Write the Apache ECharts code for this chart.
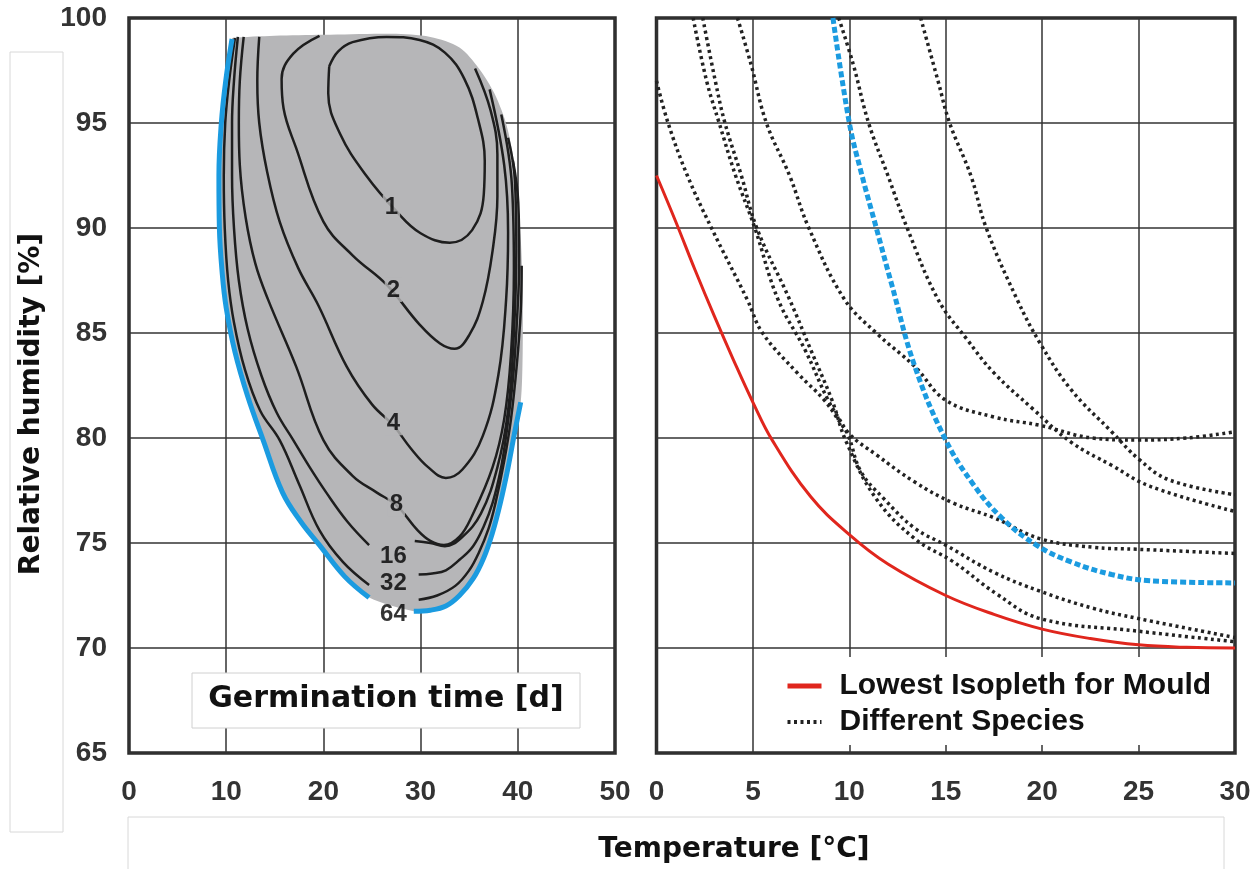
<!DOCTYPE html>
<html>
<head>
<meta charset="utf-8">
<title>Mould germination isopleths</title>
<script src="https://cdn.jsdelivr.net/npm/echarts@6/dist/echarts.min.js"></script>
<style>
  html, body { margin: 0; padding: 0; background: #fff; }
  #chart { width: 1258px; height: 869px; }
</style>
</head>
<body>
<div id="chart"></div>
<script>
// ---- left panel: germination time isopleths [temperature, RH] ----
const contour1 = [[20.6,97.7],[21.5,98.4],[23,98.85],[26.5,99.1],[29.9,98.95],[32.5,98.35],[34.5,97.1],[35.9,95.2],[36.6,93.2],[36.5,91.6],[35.3,89.9],[33,89.3],[30,89.75],[27.5,90.8],[24.4,92.5],[21.7,94.5],[20.5,96.4],[20.6,97.7]]
const contour2 = [[19.6,99.15],[16.9,98.3],[15.7,97.1],[15.9,95.7],[17.2,93.8],[20,90.3],[23,88.7],[26.5,87.3],[29.9,85.4],[32,84.5],[33.5,84.25],[35,84.9],[36.4,86.5],[37.4,88.9],[37.9,91.5],[37.9,93.5],[37.2,95.6],[35.6,97.6]]
const contour4 = [[13.4,99.1],[13.2,97],[13.4,95],[14.2,92.7],[15.5,90.3],[17.4,88.1],[19.5,86.3],[22.4,83.4],[25,81.6],[27.2,80.6],[29,79.5],[30.8,78.6],[32.6,78.1],[34.3,78.5],[36.4,80.1],[38,83],[38.8,86.6],[39,89.8],[38.6,93],[37.1,96.6]]
const contour8 = [[11.8,99.1],[11.4,97],[11.3,95],[11.4,93],[12,90.5],[13,88.3],[14.3,86.6],[17.2,83.4],[20,79.9],[23,78.2],[25.5,77.4],[27.5,76.8],[29.7,75.6],[31,75.1],[32.4,74.9],[34,75.3],[35.3,76.3],[37.4,78.6],[38.6,80.9],[39.3,84],[39.6,88],[39.4,92],[38.3,95.4]]
const contour16Left = [[11.2,99.1],[10.8,97],[10.6,95],[10.6,92.5],[10.8,90],[11.3,87.5],[12.2,85.2],[13.6,83],[15.2,81.2],[16.9,79.9],[18.6,78.6],[20.3,77.4],[22.5,76],[24.7,74.9]]
const contour16Right = [[29.4,75.1],[31,75],[32.5,74.85],[34.2,75.25],[36.2,76.4],[37.9,78.6],[39,81.3],[39.6,85],[39.85,89],[39.7,92.3],[39,94.3]]
const contour32Left = [[10.9,99.05],[10.3,97],[9.9,95],[9.75,92.5],[9.85,90],[10.2,87.5],[10.8,85.5],[11.9,83.3],[13.5,81.3],[15.5,79.9],[17.5,77.8],[19.6,75.6],[22,74.1],[24.7,73]]
const contour32Right = [[29.8,73.5],[31.2,73.55],[32.6,73.7],[34,74.2],[35.4,74.85],[36.5,75.8],[37.4,76.9],[38.2,78.4],[38.8,80.1],[39.5,82.8],[39.9,85.5],[40.15,88.5],[40.05,91.2],[39.5,93.2]]
const contour64Right = [[29.8,72.3],[31.7,72.5],[33.6,72.97],[35,73.7],[36,74.55],[37,75.7],[37.7,76.9],[38.6,78.9],[39.3,80.9],[39.9,83.5],[40.3,86],[40.4,88.2]]
const limitLeft = [[10.6,99],[9.95,97],[9.5,95],[9.25,92.5],[9.3,90],[9.6,87.8],[10,86.2],[10.9,84.1],[12.2,82],[13.8,79.9],[15.8,77.4],[17.7,76],[19.6,74.9],[22.2,73.4],[24.7,72.4]]
const limitRight = [[29.3,71.75],[31,71.8],[32.6,72],[34,72.5],[35.4,73.3],[36.5,74.3],[37.4,75.5],[38.2,76.9],[39,78.6],[39.65,80.2],[40.3,81.7]]
const grayTopEdge = [[40.5,84],[40.5,87],[40.3,89.5],[39.8,92.5],[38.9,94.8],[37.6,96.4],[36,97.6],[34,98.6],[31,99.1],[27,99.25],[20,99.2],[15,99.15],[10.6,99.05]]

const contourLabels = ['1', '2', '4', '8', '16', '32', '64']
const contourLabelX = [27.0, 27.2, 27.2, 27.5, 27.2, 27.2, 27.2]
const contourLabelY = [91.0, 87.05, 80.7, 76.85, 74.35, 73.1, 71.6]

// ---- right panel: isopleths of different species ----
const lowestIsopleth = [[0,92.5],[1,90.3],[2,88],[3,85.8],[4,83.7],[5,81.7],[6,79.9],[8,77.2],[10,75.4],[12,74],[15,72.5],[17.5,71.6],[20,70.9],[22.5,70.45],[25,70.15],[27.5,70.03],[30,70]]
const speciesBlue = [[9.15,100],[10,95],[10.6,92.7],[11.4,90],[12.2,87.3],[13.4,83.4],[15,79.9],[16.5,77.7],[17.9,76.2],[19.7,74.9],[21.5,74.1],[23.6,73.5],[25.6,73.2],[30,73.1]]
const speciesA = [[0,97],[0.6,95],[1.6,92.5],[2.85,90],[4.7,86.6],[5.5,85],[7.3,83.1],[8.7,81.8],[10,80.2],[11.4,79.2],[13.4,77.9],[15.4,76.9],[17.5,76.2],[19.9,75.2],[22.6,74.8],[25,74.7],[30,74.5]]
const speciesB = [[1.9,100],[2.6,97],[3.25,95],[4.1,92.5],[5.1,90],[6.3,86.6],[7.7,84.2],[8.9,81.8],[9.9,80.2],[10.6,78.4],[11.8,77.1],[13.4,75.7],[15,74.9],[17.5,73.6],[19.9,72.7],[22.6,71.9],[25,71.4],[30,70.5]]
const speciesC = [[2.4,100],[3.05,97],[3.55,95],[4.4,92.5],[5.2,90],[6.9,86.6],[8,84.2],[9.1,81.8],[9.85,79.8],[11.4,77.1],[13.4,75.2],[15.4,74.1],[17.6,72.6],[19.9,71.4],[25,70.8],[30,70.3]]
const speciesD = [[4.2,100],[4.9,97.8],[5.7,95],[6.9,92.5],[7.9,90],[9.75,86.6],[11.4,85],[13.4,83.4],[15,81.8],[17.5,81],[19.9,80.6],[22.6,80],[25,79.9],[27.5,80],[30,80.3]]
const speciesE = [[9.45,100],[10.2,97.8],[11,95],[12,92.5],[13,90],[14.6,86.6],[16.1,84.7],[17.5,83.1],[19.5,81.4],[21.5,79.8],[23.6,78.7],[25.6,77.7],[30,76.5]]
const speciesF = [[13.7,100],[14.6,97],[15.2,95],[16.3,92.5],[17.1,90],[18.7,86.6],[19.9,84.5],[21.5,82.3],[23.6,80.3],[25,79],[26.6,78],[30,77.3]]

const narrowFont = "'Liberation Sans Narrow', 'Liberation Sans', Arial, sans-serif"
const sansFont = "'Liberation Sans', Arial, sans-serif"
const dejaFont = "'DejaVu Sans', sans-serif"

const chart = echarts.init(document.getElementById('chart'))

const regionOutline = limitLeft.concat(limitRight, grayTopEdge)

function contourLine(data, extra) {
  return Object.assign({
    type: 'line',
    xAxisIndex: 0,
    yAxisIndex: 0,
    data: data,
    symbol: 'none',
    smooth: 0.4,
    silent: true,
    z: 3,
    lineStyle: { color: '#1e1e1e', width: 2.5 }
  }, extra || {})
}

function speciesLine(data) {
  return {
    name: 'Different Species',
    type: 'line',
    xAxisIndex: 1,
    yAxisIndex: 1,
    data: data,
    symbol: 'none',
    smooth: 0.4,
    silent: true,
    z: 3,
    itemStyle: { color: '#222' },
    lineStyle: { color: '#222', width: 3.5, type: [3, 3.5], cap: 'butt' }
  }
}

const axisLabelX = { fontFamily: narrowFont, fontWeight: 'bold', fontSize: 28, color: '#333', margin: 25 }
const splitLine = { show: true, lineStyle: { color: '#333', width: 1.5 } }

const labelData = contourLabels.map((t, i) => ({
  value: [contourLabelX[i], contourLabelY[i]],
  label: {
    show: true,
    position: 'inside',
    formatter: t,
    fontFamily: sansFont,
    fontWeight: 'bold',
    fontSize: 24,
    color: '#000',
    backgroundColor: i < 4 ? '#b6b6b8' : 'transparent',
    padding: [0, 2]
  }
}))

chart.setOption({
  animation: false,
  grid: [
    { left: 129, top: 18, width: 486, height: 735, show: true, borderColor: '#2a2a2a', borderWidth: 3.5 },
    { left: 656.5, top: 18, width: 578.5, height: 735, show: true, borderColor: '#2a2a2a', borderWidth: 3.5 }
  ],
  xAxis: [
    { type: 'value', gridIndex: 0, min: 0, max: 50, interval: 10,
      axisLine: { show: false }, axisTick: { show: false }, axisLabel: axisLabelX, splitLine: splitLine },
    { type: 'value', gridIndex: 1, min: 0, max: 30, interval: 5,
      axisLine: { show: false }, axisTick: { show: false }, axisLabel: axisLabelX, splitLine: splitLine }
  ],
  yAxis: [
    { type: 'value', gridIndex: 0, min: 65, max: 100, interval: 5,
      axisLine: { show: false }, axisTick: { show: false }, splitLine: splitLine,
      axisLabel: { fontFamily: narrowFont, fontWeight: 'bold', fontSize: 28, color: '#333', margin: 22, padding: [8, 0, 0, 0] } },
    { type: 'value', gridIndex: 1, min: 65, max: 100, interval: 5,
      axisLine: { show: false }, axisTick: { show: false }, splitLine: splitLine, axisLabel: { show: false } }
  ],
  legend: {
    data: [
      { name: 'Lowest Isopleth for Mould', lineStyle: { width: 5 } },
      { name: 'Different Species', lineStyle: { width: 4, type: [3, 3.5] } }
    ],
    orient: 'vertical',
    left: 785,
    top: 671,
    padding: 0,
    itemWidth: 34,
    itemHeight: 14,
    itemGap: 6,
    selectedMode: false,
    z: 60,
    itemStyle: { opacity: 0 },
    textStyle: { fontFamily: sansFont, fontWeight: 'bold', fontSize: 30, color: '#111', padding: [0, 0, 0, 13] }
  },
  graphic: [
    { type: 'rect', silent: true, z: 1, shape: { x: 10, y: 52, width: 53, height: 780 },
      style: { fill: 'none', stroke: '#d8d8d8', lineWidth: 1 } },
    { type: 'rect', silent: true, z: 1, shape: { x: 128, y: 817, width: 1096, height: 80 },
      style: { fill: 'none', stroke: '#d8d8d8', lineWidth: 1 } },
    { type: 'text', silent: true, z: 2, x: 32, y: 404, rotation: Math.PI / 2,
      style: { text: 'Relative humidity [%]', font: 'bold 28px ' + dejaFont, fill: '#111', align: 'center', verticalAlign: 'middle' } },
    { type: 'text', silent: true, z: 2, x: 734, y: 850,
      style: { text: 'Temperature [°C]', font: 'bold 28px ' + dejaFont, fill: '#111', align: 'center', verticalAlign: 'middle' } },
    { type: 'rect', silent: true, z: 50, shape: { x: 192, y: 673, width: 388, height: 55 },
      style: { fill: '#fff', stroke: '#d0d0d0', lineWidth: 1 } },
    { type: 'text', silent: true, z: 51, x: 386, y: 699,
      style: { text: 'Germination time [d]', font: 'bold 30px ' + dejaFont, fill: '#111', align: 'center', verticalAlign: 'middle' } },
    { type: 'rect', silent: true, z: 50, shape: { x: 772, y: 657, width: 460, height: 88 },
      style: { fill: '#fff' } }
  ],
  series: [
    {
      type: 'custom',
      xAxisIndex: 0,
      yAxisIndex: 0,
      silent: true,
      z: 1,
      data: regionOutline,
      renderItem: function (params, api) {
        if (params.dataIndex !== 0) return
        const pts = regionOutline.map(p => api.coord(p))
        return { type: 'polygon', shape: { points: pts, smooth: 0.3 }, style: { fill: '#b6b6b8' } }
      }
    },
    contourLine(contour1),
    contourLine(contour2),
    contourLine(contour4),
    contourLine(contour8),
    contourLine(contour16Left),
    contourLine(contour16Right),
    contourLine(contour32Left),
    contourLine(contour32Right),
    contourLine(contour64Right),
    contourLine(limitLeft, { z: 4, lineStyle: { color: '#1b9be0', width: 5 } }),
    contourLine(limitRight, { z: 4, lineStyle: { color: '#1b9be0', width: 5 } }),
    {
      type: 'scatter',
      xAxisIndex: 0,
      yAxisIndex: 0,
      silent: true,
      symbolSize: 1,
      itemStyle: { color: 'rgba(0,0,0,0)' },
      z: 6,
      data: labelData
    },
    speciesLine(speciesA),
    speciesLine(speciesB),
    speciesLine(speciesC),
    speciesLine(speciesD),
    speciesLine(speciesE),
    speciesLine(speciesF),
    {
      name: 'Species highlighted',
      type: 'line',
      xAxisIndex: 1,
      yAxisIndex: 1,
      data: speciesBlue,
      symbol: 'none',
      smooth: 0.4,
      silent: true,
      z: 4,
      itemStyle: { color: '#1b9be0' },
      lineStyle: { color: '#1b9be0', width: 5, type: [6, 3], cap: 'butt' }
    },
    {
      name: 'Lowest Isopleth for Mould',
      type: 'line',
      xAxisIndex: 1,
      yAxisIndex: 1,
      data: lowestIsopleth,
      symbol: 'none',
      smooth: 0.4,
      silent: true,
      z: 5,
      itemStyle: { color: '#e0261d' },
      lineStyle: { color: '#e0261d', width: 3 }
    }
  ]
})
</script>
</body>
</html>
